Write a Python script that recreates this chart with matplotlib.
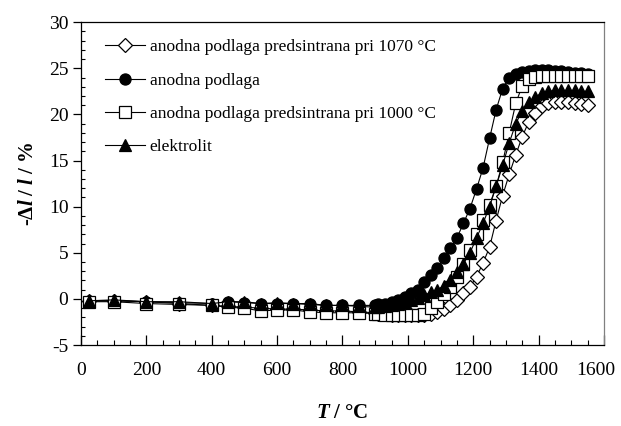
"""Dilatometric shrinkage curves: anode substrates and electrolyte."""

import matplotlib

matplotlib.use("Agg")
import matplotlib.pyplot as plt
import matplotlib.transforms as mtransforms
from matplotlib.ticker import MultipleLocator

plt.rcParams["font.family"] = ["Liberation Serif", "DejaVu Serif"]
plt.rcParams["axes.unicode_minus"] = False
plt.rcParams["mathtext.fontset"] = "custom"
plt.rcParams["mathtext.rm"] = "Liberation Serif"
plt.rcParams["mathtext.bf"] = "Liberation Serif:bold"
plt.rcParams["mathtext.it"] = "Liberation Serif:italic"
plt.rcParams["mathtext.bfit"] = "Liberation Serif:italic:bold"

# temperature points, °C
T = [25, 100, 200, 300, 400, 450, 500, 550, 600, 650, 700, 750, 800, 850, 900,
     910, 930, 950, 970, 990, 1010, 1030, 1050, 1070, 1090, 1110, 1130, 1150,
     1170, 1190, 1210, 1230, 1250, 1270, 1290, 1310, 1330, 1350, 1370, 1390,
     1410, 1430, 1450, 1470, 1490, 1510, 1530, 1550]

# -dl/l, %
pre1070 = [-0.2, -0.2, -0.3, -0.5, -0.7, -0.8, -0.9, -1.0, -1.1, -1.1, -1.2, -1.3, -1.3, -1.4, -1.5,
           -1.6, -1.6, -1.7, -1.7, -1.7, -1.7, -1.7, -1.7, -1.6, -1.4, -1.1, -0.7, -0.1,
           0.6, 1.3, 2.4, 3.9, 5.6, 8.5, 11.2, 13.5, 15.6, 17.6, 19.2, 20.2,
           20.9, 21.2, 21.3, 21.3, 21.3, 21.2, 21.1, 21.0]
anoda = [-0.2, -0.2, -0.3, -0.4, -0.5, -0.3, -0.4, -0.5, -0.5, -0.5, -0.6, -0.7, -0.7, -0.7, -0.7,
         -0.6, -0.5, -0.3, -0.1, 0.2, 0.6, 1.0, 1.8, 2.6, 3.4, 4.4, 5.5, 6.6,
         8.2, 9.8, 11.9, 14.2, 17.4, 20.5, 22.8, 24.0, 24.4, 24.6, 24.7, 24.8,
         24.8, 24.8, 24.7, 24.7, 24.6, 24.5, 24.5, 24.4]
pre1000 = [-0.3, -0.3, -0.5, -0.6, -0.7, -0.9, -1.0, -1.3, -1.2, -1.2, -1.4, -1.5, -1.5, -1.5, -1.6,
           -1.6, -1.7, -1.7, -1.7, -1.7, -1.7, -1.7, -1.6, -1.0, -0.3, 0.5, 1.3, 2.4,
           3.8, 5.3, 7.0, 8.6, 10.2, 12.2, 14.8, 18.0, 21.2, 23.1, 23.8, 24.1,
           24.2, 24.2, 24.2, 24.2, 24.2, 24.2, 24.2, 24.2]
elektrolit = [-0.2, -0.1, -0.3, -0.3, -0.5, -0.3, -0.3, -0.5, -0.4, -0.5, -0.5, -0.7, -0.7, -0.8, -0.9,
              -0.9, -0.8, -0.7, -0.5, -0.3, -0.1, 0.1, 0.4, 0.7, 1.0, 1.4, 2.1, 2.9,
              3.8, 5.0, 6.6, 8.2, 10.0, 12.2, 14.5, 16.9, 19.0, 20.4, 21.3, 21.9,
              22.3, 22.5, 22.6, 22.6, 22.6, 22.6, 22.5, 22.5]

labels = ["anodna podlaga predsintrana pri 1070 °C", "anodna podlaga",
          "anodna podlaga predsintrana pri 1000 °C", "elektrolit"]

x_ticks = [0, 200, 400, 600, 800, 1000, 1200, 1400, 1600]
x_ticklabels = ["0", "200", "400", "600", "800", "1000", "1200", "1400", "1600"]

fig = plt.figure(figsize=(6.21, 4.26), dpi=100)
ax = fig.add_axes([0.1304, 0.190, 0.8422, 0.758])

line = dict(color="black", lw=0.8, markeredgecolor="black", markeredgewidth=0.9)
ax.plot(T, pre1070, marker="D", markersize=7.5, mfc="white", label=labels[0], zorder=2, **line)
ax.plot(T, anoda, marker="o", markersize=8, mfc="black", label=labels[1], zorder=3, **line)
ax.plot(T, pre1000, marker="s", markersize=8, mfc="white", label=labels[2], zorder=4, **line)
ax.plot(T, elektrolit, marker="^", markersize=8, mfc="black", label=labels[3], zorder=5, **line)

ax.set_xlim(0, 1600)
ax.set_ylim(-5, 30)
ax.set_xticks(x_ticks)
ax.set_xticklabels(x_ticklabels)
ax.xaxis.set_minor_locator(MultipleLocator(50))
ax.yaxis.set_major_locator(MultipleLocator(5))
ax.yaxis.set_minor_locator(MultipleLocator(1))
ax.tick_params(axis="x", which="major", direction="in", length=7, width=0.9, labelsize=14, pad=12)
ax.tick_params(axis="x", which="minor", direction="in", length=3.5, width=0.8)
ax.tick_params(axis="y", which="major", direction="out", length=6, width=0.9, labelsize=14, pad=3)
ax.tick_params(axis="y", which="minor", direction="in", length=3, width=0.8)
for sp in ax.spines.values():
    sp.set_linewidth(0.9)
ax.spines["right"].set_color("#808080")

# the last x label sits a bit left of its tick, inside the figure
last = ax.xaxis.get_major_ticks()[-1].label1
last.set_transform(last.get_transform() + mtransforms.ScaledTranslation(-8 / 100, 0, fig.dpi_scale_trans))

ax.set_xlabel(r"$\mathbfit{T}\mathbf{\ /\ °C}$", fontsize=15, labelpad=18)
ax.set_ylabel("\u2010" + r"$\mathbf{\Delta}\mathbfit{l}\mathbf{\ /\ }\mathbfit{l}\mathbf{\ /\ \%}$",
              fontsize=15, fontweight="bold", labelpad=8)

ax.legend(loc="upper left", frameon=False, fontsize=12.5, handlelength=2.3, handletextpad=0.25,
          labelspacing=0.98, borderaxespad=0.4, bbox_to_anchor=(0.02, 0.99))

fig.savefig("out.png", dpi=100)
